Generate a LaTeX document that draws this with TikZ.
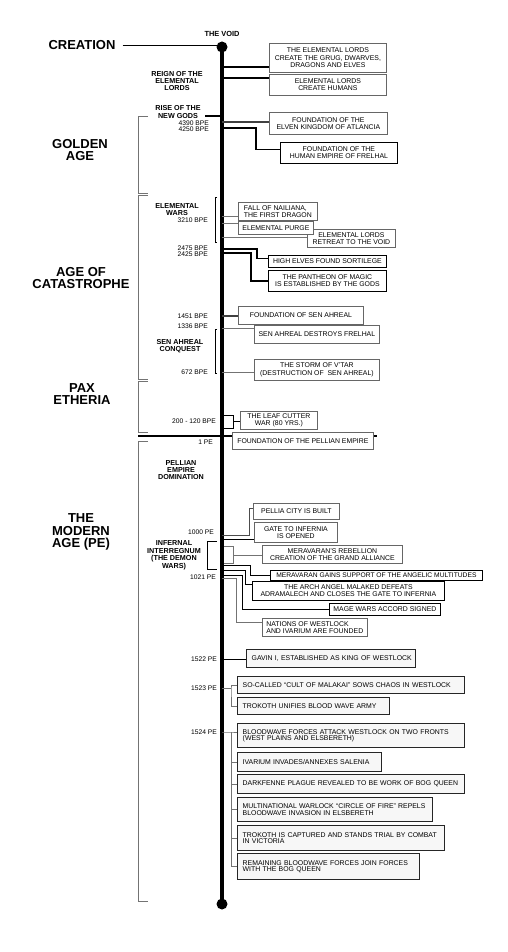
\documentclass[tikz,border=0pt]{standalone}
\usepackage{fontspec}
\setmainfont{Liberation Sans}

\tikzset{
    era/.style={font=\fontsize{13}{12.6}\selectfont\bfseries, align=center, inner sep=1pt},
    phase/.style={font=\fontsize{7.2}{7.3}\selectfont\bfseries, align=center, inner sep=0pt},
    date/.style={font=\fontsize{6.7}{7}\selectfont, anchor=east, inner sep=0pt},
    event/.style={draw=black!60, fill=white, line width=0.8pt, align=center, anchor=north west,
        inner sep=1pt, font=\fontsize{6.9}{7.4}\selectfont},
    eventdark/.style={event, draw=black},
    eventleft/.style={event, align=left, inner xsep=4pt},
    modern/.style={event, draw=black!85, line width=1.4pt, fill=black!3, align=left,
        inner xsep=5pt, inner ysep=0pt, font=\fontsize{6.9}{6.4}\selectfont},
    link/.style={line width=1.2pt},
    faint/.style={line width=0.9pt, black!55},
    bracket/.style={line width=0.9pt, black!55},
    brace/.style={line width=0.7pt}
}

\begin{document}
\begin{tikzpicture}[x=1pt,y=-1pt]

    \useasboundingbox (0,0) rectangle (508,952);

    % Main timeline
    \coordinate (void) at (222,47);
    \coordinate (end) at (222,904);
    \draw[line width=4pt] (void) -- (end);
    \fill (void) circle (5.5pt);
    \fill (end) circle (5.5pt);
    \node[phase, font=\fontsize{7.4}{8}\selectfont\bfseries] (voidlabel) at (222,34) {THE VOID};

    % Eras on the left
    \node[era] (creation) at (82,45) {CREATION};
    \draw[thin] ([xshift=6pt]creation.east) -- (creation.east -| void);
    \node[era] (golden) at (80,150) {GOLDEN\\AGE};
    \node[era] (catastrophe) at (81,278) {AGE OF\\CATASTROPHE};
    \node[era] (pax) at (82,394) {PAX\\ETHERIA};
    \node[era] (modern) at (81,532) {THE\\MODERN\\AGE (PE)};

    % Era brackets
    \draw[bracket] (148,116) -- (138,116) -- (138,193) -- (148,193);
    \draw[bracket] (148,195) -- (138,195) -- (138,379) -- (148,379);
    \draw[bracket] (148,381) -- (138,381) -- (138,432) -- (148,432);
    \draw[bracket] (148,441) -- (138,441) -- (138,901) -- (148,901);

    % Phases
    \node[phase] (reign) at (177,81) {REIGN OF THE\\ELEMENTAL\\LORDS};
    \node[phase] (rise) at (178,112) {RISE OF THE\\NEW GODS};
    \coordinate (godsend) at (205,116);
    \draw[link] (godsend) -- (godsend -| void);
    \node[phase] (elewars) at (177,209.5) {ELEMENTAL\\WARS};
    \draw[brace] (217,197) -- (215,197) -- (215,242) -- (217,242);
    \node[phase] (senahreal) at (180,346) {SEN AHREAL\\CONQUEST};
    \draw[brace] (217,329) -- (215,329) -- (215,373) -- (217,373);
    \node[phase] (pellian) at (181,470) {PELLIAN\\EMPIRE\\DOMINATION};
    \node[phase, font=\fontsize{7.2}{7.5}\selectfont\bfseries] (infernal) at (174,555.5) {INFERNAL\\INTERREGNUM\\(THE DEMON\\WARS)};
    \draw[brace] (217,541) -- (207,541) -- (207,569) -- (217,569);

    % Dates
    \node[date] (d4390) at (209,123) {4390 BPE};
    \node[date] (d4250) at (209,129.5) {4250 BPE};
    \node[date] (d3210) at (208,220) {3210 BPE};
    \node[date] (d2475) at (208,248) {2475 BPE};
    \node[date] (d2425) at (208,254) {2425 BPE};
    \node[date] (d1451) at (208,316) {1451 BPE};
    \node[date] (d1336) at (208,326) {1336 BPE};
    \node[date] (d672) at (208,372) {672 BPE};
    \node[date] (d200) at (216,421) {200 - 120 BPE};
    \node[date] (d1) at (213,442) {1 PE};
    \node[date] (d1000) at (214,532) {1000 PE};
    \node[date] (d1021) at (216,577) {1021 PE};
    \node[date] (d1522) at (217,659) {1522 PE};
    \node[date] (d1523) at (217,688) {1523 PE};
    \node[date] (d1524) at (217,732) {1524 PE};

    % Reign of the elemental lords
    \node[event, minimum width=117pt, minimum height=29pt] (grug) at (269,43)
        {THE ELEMENTAL LORDS\\CREATE THE GRUG, DWARVES,\\DRAGONS AND ELVES};
    \node[event, minimum width=117pt, minimum height=21pt] (humans) at (269,74)
        {ELEMENTAL LORDS\\CREATE HUMANS};
    \coordinate (t1) at (222,67);
    \coordinate (t2) at (222,78);
    \draw[link] (t1) -- (t1 -| grug.west);
    \draw[link] (t2) -- (t2 -| humans.west);

    % Golden age
    \node[event, minimum width=118pt, minimum height=22pt] (atlancia) at (269,112)
        {FOUNDATION OF THE\\ELVEN KINGDOM OF ATLANCIA};
    \node[eventdark, minimum width=117pt, minimum height=21pt] (frelhal) at (280,142)
        {FOUNDATION OF THE\\HUMAN EMPIRE OF FRELHAL};
    \coordinate (t3) at (222,122);
    \coordinate (t4) at (222,128);
    \draw[link, black!75] (t3) -- (t3 -| atlancia.west);
    \draw[link] (t4) -| ([xshift=-24pt,yshift=3pt]frelhal.west) -- ([yshift=3pt]frelhal.west);

    % Elemental wars
    \node[event, minimum width=88pt, minimum height=18pt] (retreat) at (307,229)
        {ELEMENTAL LORDS\\RETREAT TO THE VOID};
    \node[eventleft, minimum width=79pt, minimum height=18pt] (nailiana) at (238,202)
        {FALL OF NAILIANA,\\THE FIRST DRAGON};
    \node[eventleft, minimum width=75pt, minimum height=13pt] (purge) at (238,221)
        {ELEMENTAL PURGE};
    \coordinate (t5) at (222,216);
    \coordinate (t6) at (222,223);
    \coordinate (t7) at (222,237);
    \draw[faint] (t5) -- (t5 -| nailiana.west);
    \draw[faint] (t6) -- (t6 -| purge.west);
    \draw[faint] (t7) -- (t7 -| retreat.west);

    % Magic
    \node[eventdark, minimum width=118pt, minimum height=12pt] (sortilege) at (268,255)
        {HIGH ELVES FOUND SORTILEGE};
    \node[eventdark, minimum width=118pt, minimum height=21pt] (pantheon) at (268,270)
        {THE PANTHEON OF MAGIC\\IS ESTABLISHED BY THE GODS};
    \coordinate (t8) at (222,249);
    \coordinate (t9) at (222,253);
    \draw[link] (t8) -| ([xshift=-11pt,yshift=3pt]sortilege.west) -- ([yshift=3pt]sortilege.west);
    \draw[link] (t9) -| ([xshift=-17pt]pantheon.west) -- (pantheon.west);

    % Sen Ahreal
    \node[event, minimum width=125pt, minimum height=18pt] (foundsen) at (238,306)
        {FOUNDATION OF SEN AHREAL};
    \node[event, minimum width=125pt, minimum height=18pt] (destroys) at (254,325)
        {SEN AHREAL DESTROYS FRELHAL};
    \node[event, minimum width=125pt, minimum height=21pt] (vtar) at (254,359)
        {THE STORM OF V'TAR\\(DESTRUCTION OF \ SEN AHREAL)};
    \coordinate (t10) at (222,316);
    \coordinate (t11) at (222,328);
    \coordinate (t12) at (222,372);
    \draw[link, black!75] (t10) -- (t10 -| foundsen.west);
    \draw[faint] (t11) -- (t11 -| destroys.west);
    \draw[faint] (t12) -- (t12 -| vtar.west);

    % Pax Etheria
    \node[event, minimum width=77pt, minimum height=18pt] (leaf) at (240,411)
        {THE LEAF CUTTER\\WAR (80 YRS.)};
    \coordinate (lf) at (233,421);
    \draw[link, line width=0.9pt] (224,415) -- (233,415) -- (233,428) -- (224,428);
    \draw[link, line width=0.9pt] (lf) -- (lf -| leaf.west);

    % Start of the modern age
    \draw[line width=2pt] (138,436) -- (377,436);
    \node[eventleft, minimum width=141pt, minimum height=17pt, inner xsep=3pt] (pellia) at (232,432)
        {FOUNDATION OF THE PELLIAN EMPIRE};

    % Pellian empire domination
    \node[event, minimum width=86pt, minimum height=16pt] (city) at (253,503)
        {PELLIA CITY IS BUILT};
    \node[event, minimum width=83pt, minimum height=20pt] (gate) at (254,522)
        {GATE TO INFERNIA\\IS OPENED};
    \coordinate (t15) at (222,535);
    \coordinate (t16) at (222,539);
    \draw[faint, black!70] (t15) -| ([xshift=-4pt,yshift=3pt]city.west) -- ([yshift=3pt]city.west);
    \draw[link, line width=0.9pt] (t16) -- (t16 -| gate.west);

    % Infernal interregnum
    \node[event, minimum width=140pt, minimum height=18pt] (rebellion) at (262,545)
        {MERAVARAN'S REBELLION\\CREATION OF THE GRAND ALLIANCE};
    \node[eventdark, minimum width=212pt, minimum height=10pt, inner ysep=0pt,
        font=\fontsize{6.7}{7}\selectfont] (angelic) at (270,570)
        {MERAVARAN GAINS SUPPORT OF THE ANGELIC MULTITUDES};
    \node[eventdark, minimum width=192pt, minimum height=19pt] (malaked) at (252,581)
        {THE ARCH ANGEL MALAKED DEFEATS\\ADRAMALECH AND CLOSES THE GATE TO INFERNIA};
    \node[eventdark, minimum width=111pt, minimum height=12pt] (accord) at (329,603)
        {MAGE WARS ACCORD SIGNED};
    \node[eventleft, minimum width=103pt, minimum height=18pt] (nations) at (262,618)
        {NATIONS OF WESTLOCK\\AND IVARIUM ARE FOUNDED};
    \coordinate (rb) at (233,555);
    \coordinate (t18) at (222,565);
    \coordinate (t19) at (222,570);
    \coordinate (t20) at (222,575);
    \coordinate (t21) at (222,578);
    \draw[faint] (224,546) -- (233,546) -- (233,563) -- (224,563);
    \draw[faint] (rb) -- (rb -| rebellion.west);
    \draw[link, line width=0.9pt] (t18) -| ([xshift=-20pt]angelic.west) -- (angelic.west);
    \draw[link, line width=0.9pt] (t19) -| ([xshift=-7pt,yshift=6pt]malaked.west) -- ([yshift=6pt]malaked.west);
    \draw[link, line width=0.9pt] (t20) -| ([xshift=-87pt]accord.west) -- (accord.west);
    \draw[faint] (t21) -| ([xshift=-26pt,yshift=5pt]nations.west) -- ([yshift=5pt]nations.west);

    % Westlock
    \node[modern, text width=165pt, inner xsep=2pt, minimum height=18pt] (gavin) at (246,649)
        {\hspace*{3pt}GAVIN I, ESTABLISHED AS KING OF WESTLOCK};
    \coordinate (t22) at (222,659);
    \draw[link, line width=0.9pt] (t22) -- (t22 -| gavin.west);

    \node[modern, text width=217pt, minimum height=17pt] (cult) at (237,676)
        {SO-CALLED ``CULT OF MALAKAI'' SOWS CHAOS IN WESTLOCK};
    \node[modern, text width=142pt, minimum height=17pt] (unifies) at (237,697)
        {TROKOTH UNIFIES BLOOD WAVE ARMY};
    \coordinate (t23) at (222,688);
    \coordinate (k23) at (231,688);
    \draw[faint] (t23) -- (k23);
    \draw[faint] (cult.west) -| (k23) |- (unifies.west);

    % Bloodwave
    \node[modern, text width=217pt, minimum height=24pt] (attack) at (237,723)
        {BLOODWAVE FORCES ATTACK WESTLOCK ON TWO FRONTS\\(WEST PLAINS AND ELSBERETH)};
    \node[modern, text width=134pt, minimum height=19pt] (ivarium) at (237,752)
        {IVARIUM INVADES/ANNEXES SALENIA};
    \node[modern, text width=217pt, minimum height=19pt] (plague) at (237,774)
        {DARKFENNE PLAGUE REVEALED TO BE WORK OF BOG QUEEN};
    \node[modern, text width=185pt, minimum height=24pt] (circle) at (237,797)
        {MULTINATIONAL WARLOCK ``CIRCLE OF FIRE'' REPELS\\BLOODWAVE INVASION IN ELSBERETH};
    \node[modern, text width=197pt, minimum height=25pt] (captured) at (237,825)
        {TROKOTH IS CAPTURED AND STANDS TRIAL BY COMBAT\\IN VICTORIA};
    \node[modern, text width=172pt, minimum height=26pt] (remaining) at (237,853)
        {REMAINING BLOODWAVE FORCES JOIN FORCES\\WITH THE BOG QUEEN};
    \coordinate (t25) at (222,732);
    \coordinate (k25) at (231,732);
    \draw[faint] (t25) -- (k25) -- (k25 -| attack.west);
    \draw[faint] (k25) |- (remaining.west);
    \foreach \ev in {ivarium, plague, circle, captured}
        \draw[faint] (\ev.west) -- (\ev.west -| k25);

\end{tikzpicture}
\end{document}
